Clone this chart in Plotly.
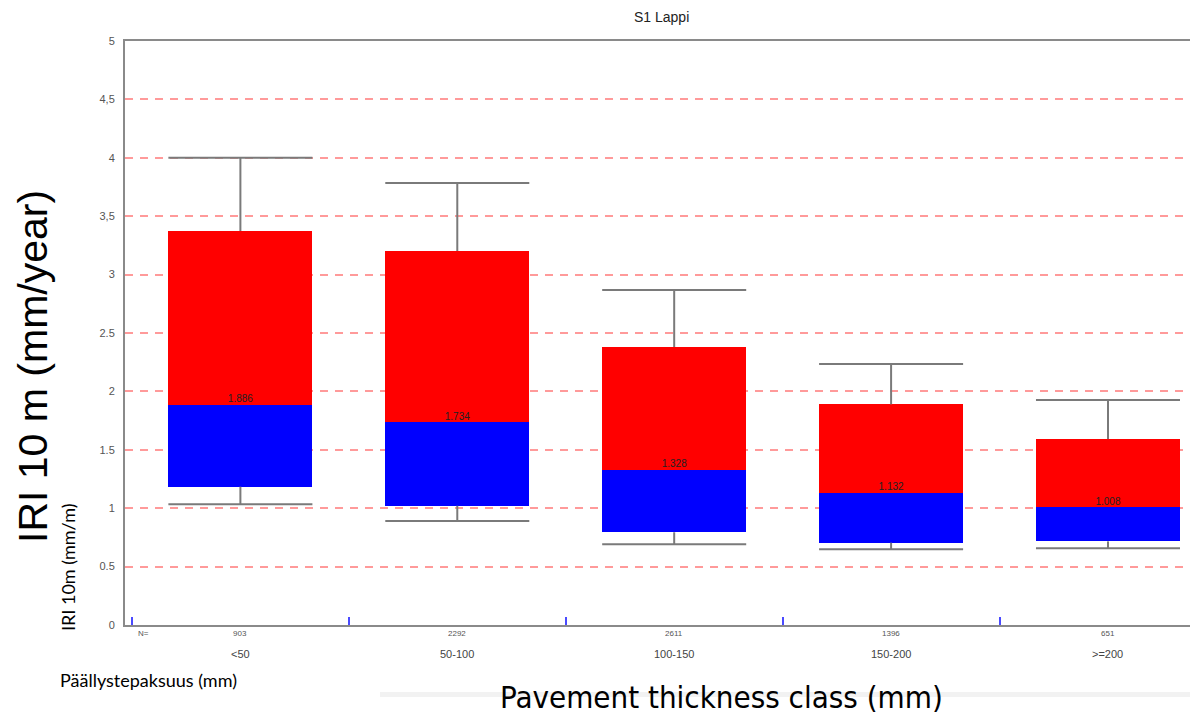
import plotly.graph_objects as go

# ---- data ----
categories = ["<50", "50-100", "100-150", "150-200", ">=200"]
counts = [903, 2292, 2611, 1396, 651]
whisker_low = [1.033, 0.890, 0.691, 0.648, 0.657]
q1 = [1.184, 1.021, 0.794, 0.705, 0.716]
median = [1.886, 1.734, 1.328, 1.132, 1.008]
q3 = [3.373, 3.202, 2.380, 1.889, 1.592]
whisker_high = [4.000, 3.784, 2.868, 2.235, 1.926]
y_tickvals = [0, 0.5, 1, 1.5, 2, 2.5, 3, 3.5, 4, 4.5, 5]
y_ticktext = ["0", "0.5", "1", "1.5", "2", "2.5", "3", "3,5", "4", "4,5", "5"]

# page body has an 8px margin: figure is drawn 8px right/down of the window origin
OFF = 8
W, H = 1198 - OFF, 716 - OFF
L, R, T, B = 125 - OFF, 0, 41 - OFF, 91
box_w = 0.664
xs = list(range(len(categories)))

fig = go.Figure()

# whiskers (vertical + caps)
wx, wy = [], []
for i in xs:
    wx += [i, i, None, i, i, None]
    wy += [q3[i], whisker_high[i], None, q1[i], whisker_low[i], None]
    wx += [i - box_w / 2, i + box_w / 2, None, i - box_w / 2, i + box_w / 2, None]
    wy += [whisker_high[i], whisker_high[i], None, whisker_low[i], whisker_low[i], None]
fig.add_trace(go.Scatter(x=wx, y=wy, mode="lines", line=dict(color="#7a7a7a", width=2),
                         hoverinfo="skip", showlegend=False))

# lower half of box (blue)
fig.add_trace(go.Bar(x=xs, y=[m - a for m, a in zip(median, q1)], base=q1, width=box_w,
                     marker=dict(color="#0000ff", line=dict(width=0)), showlegend=False))
# upper half of box (red)
fig.add_trace(go.Bar(x=xs, y=[b - m for m, b in zip(median, q3)], base=median, width=box_w,
                     marker=dict(color="#ff0000", line=dict(width=0)), showlegend=False))

# median labels
fig.add_trace(go.Scatter(x=xs, y=median, mode="text", text=[f"{m:.3f}" for m in median],
                         textposition="top center",
                         textfont=dict(family="Liberation Sans", size=10, color="#222222"),
                         hoverinfo="skip", showlegend=False))

plot_h = H - T - B
plot_w = W - L - R


def py(ref_px):
    """reference window y pixel -> paper fraction"""
    return (H - B - (ref_px - OFF)) / plot_h


def px_x(ref_px):
    """reference window x pixel -> paper fraction"""
    return ((ref_px - OFF) - L) / plot_w


annotations = [
    dict(x=-0.48, y=0, xref="x", yref="paper", yshift=-2, text="N=",
         showarrow=False, xanchor="left", yanchor="top",
         font=dict(family="Liberation Sans", size=8, color="#555555")),
]
for i in xs:
    annotations.append(dict(x=i, y=0, xref="x", yref="paper", yshift=-2, text=str(counts[i]),
                            showarrow=False, xanchor="center", yanchor="top",
                            font=dict(family="Liberation Sans", size=8, color="#555555")))
    annotations.append(dict(x=i, y=0, xref="x", yref="paper", yshift=-21, text=categories[i],
                            showarrow=False, xanchor="center", yanchor="top",
                            font=dict(family="Liberation Sans", size=11, color="#444444")))

annotations += [
    dict(x=0.5, y=py(17), xref="paper", yref="paper", text="S1 Lappi", showarrow=False,
         xanchor="center", yanchor="middle",
         font=dict(family="Liberation Sans", size=14, color="#222222")),
    dict(x=px_x(33), y=py(367), xref="paper", yref="paper", text="IRI 10 m (mm/year)",
         textangle=-90, showarrow=False, xanchor="center", yanchor="middle",
         font=dict(family="Liberation Sans", size=41, color="#000000")),
    dict(x=px_x(68), y=py(568), xref="paper", yref="paper", text="IRI 10m (mm/m)",
         textangle=-90, showarrow=False, xanchor="center", yanchor="middle",
         font=dict(family="Lato", size=18, color="#000000")),
    dict(x=px_x(58), y=py(680), xref="paper", yref="paper", text="Päällystepaksuus (mm)",
         showarrow=False, xanchor="left", yanchor="middle",
         font=dict(family="Lato", size=18, color="#000000")),
    dict(x=px_x(721), y=py(697), xref="paper", yref="paper", text="Pavement thickness class (mm)",
         showarrow=False, xanchor="center", yanchor="middle",
         font=dict(family="DejaVu Sans Condensed", size=31, color="#000000")),
]

fig.update_layout(
    width=W, height=H,
    margin=dict(l=L, r=R, t=T, b=B),
    paper_bgcolor="white", plot_bgcolor="white",
    barmode="overlay", bargap=0,
    annotations=annotations,
    shapes=[dict(type="rect", xref="paper", yref="paper", x0=px_x(380), x1=1.0,
                 y0=py(697), y1=py(692), fillcolor="#f2f2f2", line=dict(width=0), layer="below")],
    xaxis=dict(range=[-0.532, 4.415], tickvals=[-0.5, 0.5, 1.5, 2.5, 3.5],
               ticktext=["", "", "", "", ""], ticks="inside", ticklen=8, tickwidth=1.5,
               tickcolor="#4a4aff", showgrid=False, zeroline=False,
               showline=True, linecolor="#8a8a8a", linewidth=2, mirror=True),
    yaxis=dict(range=[0, 5], tickvals=y_tickvals, ticktext=y_ticktext, ticks="",
               ticklabelstandoff=6,
               tickfont=dict(family="Liberation Sans", size=11, color="#555555"),
               showgrid=True, gridcolor="#ff9a9a", gridwidth=2, griddash="8px,7px",
               zeroline=False, showline=True, linecolor="#8a8a8a", linewidth=2),
)

fig.write_html("out.html")
